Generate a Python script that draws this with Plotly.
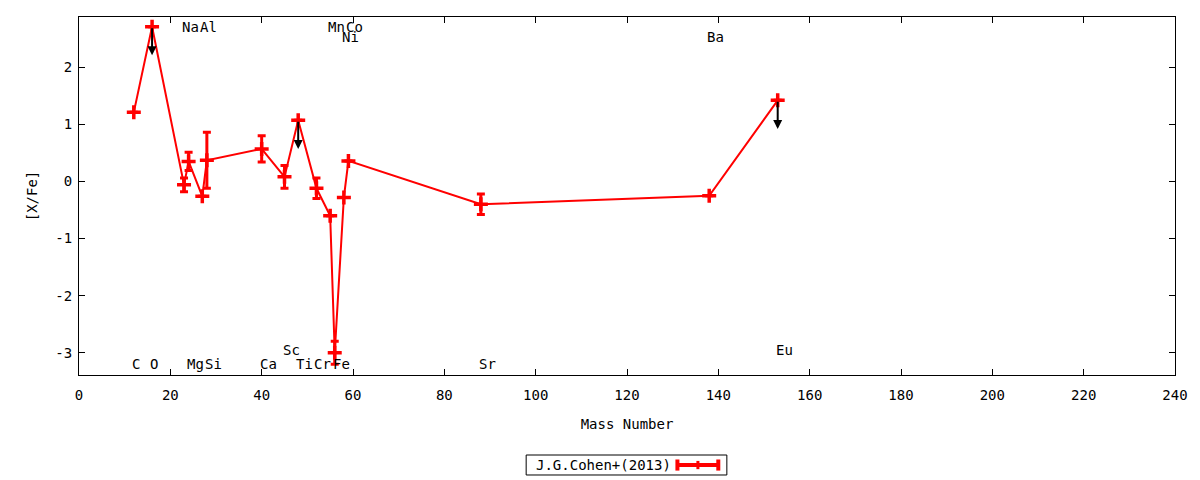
import plotly.graph_objects as go

# ---- data ----
elements = ["C", "O", "Na", "Mg", "Al", "Si", "Ca", "Sc", "Ti", "Cr", "Mn", "Fe", "Ni", "Co", "Sr", "Ba", "Eu"]
mass = [12, 16, 23, 24, 27, 28, 40, 45, 48, 52, 55, 56, 58, 59, 88, 138, 153]
xfe = [1.21, 2.71, -0.06, 0.35, -0.26, 0.37, 0.57, 0.08, 1.07, -0.12, -0.60, -3.00, -0.28, 0.36, -0.40, -0.25, 1.42]
err = [0.0, 0.0, 0.12, 0.16, 0.0, 0.49, 0.23, 0.20, 0.0, 0.18, 0.0, 0.20, 0.0, 0.0, 0.18, 0.0, 0.0]
upper_limit = [False, True, False, False, False, False, False, False, True, False, False, False, False, False, False, False, True]
label_y = [-3.19, -3.19, 2.70, -3.19, 2.70, -3.19, -3.19, -2.95, -3.19, -3.19, 2.70, -3.19, 2.53, 2.70, -3.19, 2.53, -2.95]
arrow_len = 0.5
x_ticks = [0, 20, 40, 60, 80, 100, 120, 140, 160, 180, 200, 220, 240]
y_ticks = [-3, -2, -1, 0, 1, 2]
legend_name = "J.G.Cohen+(2013)"

FONT = "DejaVu Sans Mono"
RED = "#ff0000"

fig = go.Figure()
fig.add_trace(go.Scatter(
    x=mass, y=xfe, mode="lines+markers", name=legend_name,
    line=dict(color=RED, width=2),
    marker=dict(symbol="cross-thin", size=10, color=RED, line=dict(color=RED, width=3.5)),
    error_y=dict(type="data", array=err, visible=True, color=RED, thickness=3, width=4),
    showlegend=False,
))

annotations = []
for el, m, v, ul, ly in zip(elements, mass, xfe, upper_limit, label_y):
    annotations.append(dict(x=m, y=ly, text=el, showarrow=False, xanchor="left", xshift=-4,
                            yanchor="middle", font=dict(family=FONT, size=14, color="black")))
    if ul:
        annotations.append(dict(x=m, y=v - arrow_len, ax=m, ay=v, axref="x", ayref="y",
                                xref="x", yref="y", text="", showarrow=True,
                                arrowhead=2, arrowsize=0.9, arrowwidth=2, arrowcolor="black"))

# legend drawn as gnuplot-style key box (paper coords)
annotations.append(dict(x=0.479, y=-0.2514, xref="paper", yref="paper", text=legend_name,
                        showarrow=False, xanchor="center", yanchor="middle",
                        font=dict(family=FONT, size=14, color="black")))
shapes = [
    dict(type="rect", xref="paper", yref="paper", x0=0.408, x1=0.5911, y0=-0.2793, y1=-0.2235,
         line=dict(color="black", width=1), fillcolor="white", layer="below"),
    dict(type="line", xref="paper", yref="paper", x0=0.5455, x1=0.5838, y0=-0.2514, y1=-0.2514,
         line=dict(color=RED, width=4)),
    dict(type="line", xref="paper", yref="paper", x0=0.5460, x1=0.5460, y0=-0.2360, y1=-0.2670,
         line=dict(color=RED, width=4)),
    dict(type="line", xref="paper", yref="paper", x0=0.5833, x1=0.5833, y0=-0.2360, y1=-0.2670,
         line=dict(color=RED, width=4)),
    dict(type="line", xref="paper", yref="paper", x0=0.5647, x1=0.5647, y0=-0.2400, y1=-0.2630,
         line=dict(color=RED, width=3)),
]

axis_common = dict(showline=True, linecolor="black", linewidth=1, mirror="allticks",
                   ticks="inside", ticklen=6, tickcolor="black", showgrid=False, zeroline=False,
                   tickfont=dict(family=FONT, size=14, color="black"))

fig.update_layout(
    width=1200, height=480,
    margin=dict(l=79, r=23, t=17, b=105),
    paper_bgcolor="white", plot_bgcolor="white",
    xaxis=dict(range=[0, 240], tickvals=x_ticks, ticktext=[str(t) for t in x_ticks],
               ticklabelstandoff=7,
               title=dict(text="Mass Number", font=dict(family=FONT, size=14, color="black"), standoff=17),
               **axis_common),
    yaxis=dict(range=[-3.39, 2.88], tickvals=y_ticks, ticktext=[str(t) for t in y_ticks],
               ticklabelstandoff=3,
               title=dict(text="[X/Fe]", font=dict(family=FONT, size=14, color="black"), standoff=14),
               **axis_common),
    annotations=annotations,
    shapes=shapes,
    showlegend=False,
)

fig.write_html("out.html", config={"displayModeBar": False},
               post_script="document.body.style.margin='0';document.body.style.overflow='hidden';")
